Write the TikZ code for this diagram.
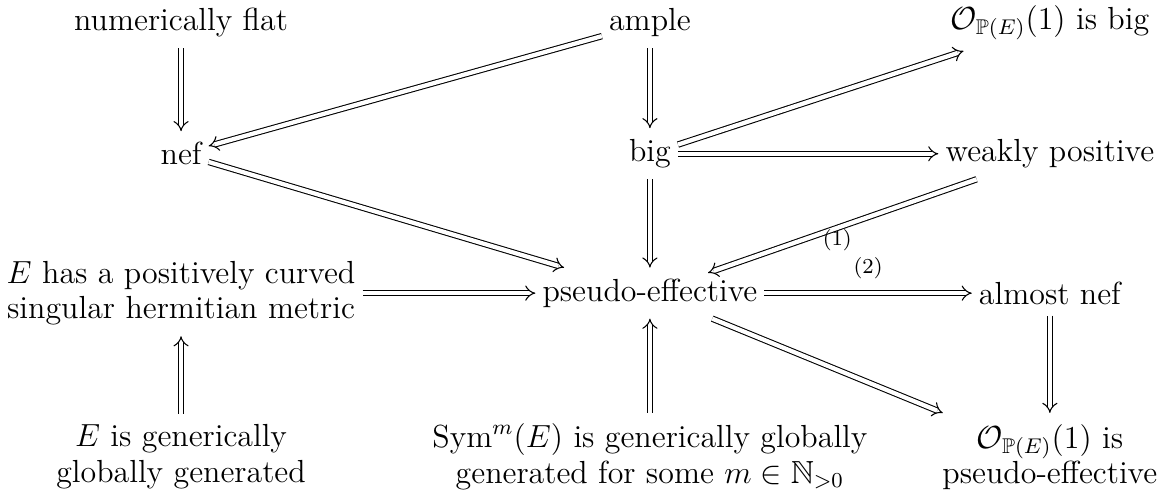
\documentclass[tikz,border=0pt,12pt]{standalone}
\usepackage{amsmath}
\usepackage{amssymb}
\usetikzlibrary{arrows.meta}

\begin{document}
\begin{tikzpicture}[
    cell/.style={inner xsep=2.5pt, inner ysep=4pt, align=center, font=\fontsize{12}{13.2}\selectfont},
    imp/.style={double, double distance=1.6pt, -{Implies}},
    lbl/.style={font=\scriptsize, inner sep=2pt}]
    \useasboundingbox (0,0) rectangle (15.38,-6.56);

    % top row
    \node[cell] (flat) at (2.39,-0.30) {numerically flat};
    \node[cell] (ample) at (8.58,-0.30) {ample};
    \node[cell] (obig) at (13.86,-0.30) {$\mathcal{O}_{\mathbb{P}(E)}(1)$ is big};

    % second row
    \node[cell] (nef) at (2.39,-2.03) {nef};
    \node[cell] (big) at (8.58,-2.03) {big};
    \node[cell] (wpos) at (13.86,-2.03) {weakly positive};

    % third row
    \node[cell] (metric) at (2.39,-3.87) {$E$ has a positively curved\\singular hermitian metric};
    \node[cell] (psef) at (8.58,-3.87) {pseudo-effective};
    \node[cell] (anef) at (13.86,-3.87) {almost nef};

    % bottom row
    \node[cell] (ggen) at (2.39,-6.03) {$E$ is generically\\globally generated};
    \node[cell] (sym) at (8.58,-6.03) {$\operatorname{Sym}^m(E)$ is generically globally\\generated for some $m\in\mathbb{N}_{>0}$};
    \node[cell] (opsef) at (13.86,-6.03) {$\mathcal{O}_{\mathbb{P}(E)}(1)$ is\\pseudo-effective};

    % implications
    \draw[imp] (flat) -- (nef);
    \draw[imp] (ample) -- (nef);
    \draw[imp] (ample) -- (big);
    \draw[imp] (big) -- (obig);
    \draw[imp] (big) -- (wpos);
    \draw[imp] (nef) -- (psef);
    \draw[imp] (big) -- (psef);
    \draw[imp, shorten >=-6pt] (wpos) -- node[lbl, below, pos=0.55, inner sep=0.5pt] {(1)} (psef);
    \draw[imp] (metric) -- (psef);
    \draw[imp] (psef) -- node[lbl, above=3pt] {(2)} (anef);
    \draw[imp] (psef) -- (opsef);
    \draw[imp] (anef) -- (opsef);
    \draw[imp] (ggen) -- (metric);
    \draw[imp] (sym) -- (psef);
\end{tikzpicture}
\end{document}
